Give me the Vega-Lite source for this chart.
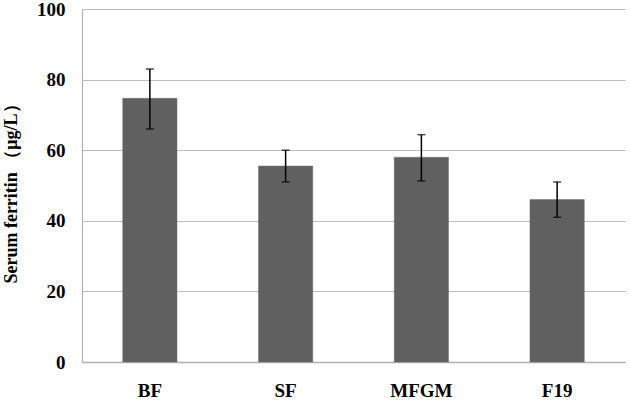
{
  "$schema": "https://vega.github.io/schema/vega-lite/v6.json",
  "width": 543,
  "height": 353,
  "autosize": {"type": "none"},
  "padding": {"left": 82, "top": 9, "right": 5, "bottom": 41},
  "background": "white",
  "config": {"view": {"stroke": null}},
  "data": {"values": [
    {"group": "BF", "mean": 74.7, "lo": 66, "hi": 83},
    {"group": "SF", "mean": 55.5, "lo": 51, "hi": 60},
    {"group": "MFGM", "mean": 58, "lo": 51.3, "hi": 64.4},
    {"group": "F19", "mean": 46, "lo": 41, "hi": 51}
  ]},
  "encoding": {
    "x": {"field": "group", "type": "nominal", "sort": null,
      "scale": {"paddingInner": 0.6, "paddingOuter": 0.3},
      "axis": {"title": null, "labelAngle": 0, "labelFont": "Liberation Serif", "labelFontWeight": "bold", "labelFontSize": 19, "labelColor": "black", "labelPadding": 19, "ticks": false, "domainColor": "#b0b0b0", "domainWidth": 1.5}}
  },
  "layer": [
    {"mark": {"type": "bar", "color": "#606060", "stroke": "#707070", "strokeWidth": 0.5},
      "encoding": {"y": {"field": "mean", "type": "quantitative",
        "scale": {"domain": [0, 100]},
        "axis": {"values": [0, 20, 40, 60, 80, 100], "title": "Serum ferritin （μg/L）", "titleFont": "Liberation Serif", "titleFontWeight": "bold", "titleFontSize": 18, "titleColor": "black", "titleAngle": -90, "titleX": -71, "titleY": 180, "titleAlign": "center", "titleBaseline": "middle", "labelFont": "Liberation Serif", "labelFontWeight": "bold", "labelFontSize": 19, "labelColor": "black", "labelPadding": 17, "ticks": false, "grid": true, "gridColor": "#bfbfbf", "gridWidth": 1.2, "domainColor": "#b0b0b0", "domainWidth": 1.2}}}},
    {"mark": {"type": "rule", "color": "black", "strokeWidth": 1.5},
      "encoding": {"y": {"field": "lo", "type": "quantitative"}, "y2": {"field": "hi"}}},
    {"mark": {"type": "tick", "color": "black", "thickness": 1.5, "size": 8, "orient": "horizontal"},
      "encoding": {"y": {"field": "lo", "type": "quantitative"}}},
    {"mark": {"type": "tick", "color": "black", "thickness": 1.5, "size": 8, "orient": "horizontal"},
      "encoding": {"y": {"field": "hi", "type": "quantitative"}}}
  ]
}
